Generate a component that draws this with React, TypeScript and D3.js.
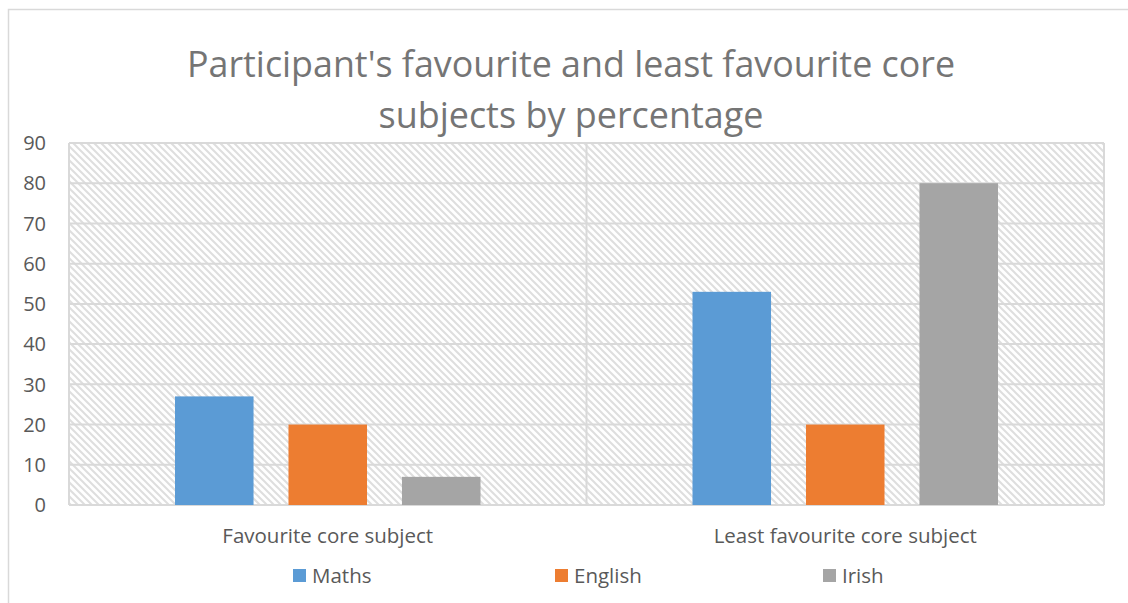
import React from "react";
import * as d3 from "d3";

const categories = ["Favourite core subject", "Least favourite core subject"];
const seriesNames = ["Maths", "English", "Irish"];
const mathsValues = [27, 53];
const englishValues = [20, 20];
const irishValues = [7, 80];
const yTicks = [0, 10, 20, 30, 40, 50, 60, 70, 80, 90];
const titleLines = ["Participant's favourite and least favourite core", "subjects by percentage"];
const colors = ["#5b9bd5", "#ed7d31", "#a5a5a5"];

const W = 1128;
const H = 603;
const FONT = "'Open Sans', 'Noto Sans', sans-serif";

export default function App() {
  const left = 69, right = 1104, top = 143, bottom = 505;
  const x0 = d3.scaleBand<string>().domain(categories).range([left, right]).paddingInner(0).paddingOuter(0);
  const x1 = d3.scaleBand<string>().domain(seriesNames).range([0, x0.bandwidth()]).paddingInner(0.308).paddingOuter(0.934);
  const y = d3.scaleLinear().domain([0, 90]).range([bottom, top]);
  const values = [mathsValues, englishValues, irishValues];
  const legendX = [293, 555, 823];

  return (
    <svg width={W} height={H} style={{ position: "absolute", left: 0, top: 0, background: "#fff" }} fontFamily={FONT}>
      <defs>
        <pattern id="hatch" width="7" height="7" patternUnits="userSpaceOnUse">
          <rect width="7" height="7" fill="#fff" />
          <path d="M-2,-2 L9,9 M-2,5 L2,9 M5,-2 L9,2" stroke="#dedede" strokeWidth="2" />
        </pattern>
      </defs>
      <path d={`M8.5,${H} V9.5 H${W}`} fill="none" stroke="#d9d9d9" strokeWidth={1.5} />
      {titleLines.map((t, i) => (
        <text key={i} x={571} y={77 + i * 51} textAnchor="middle" fontSize={36} fill="#757575"
          textLength={i === 0 ? 768 : 385} lengthAdjust="spacingAndGlyphs">{t}</text>
      ))}
      <rect x={left} y={top} width={right - left} height={bottom - top} fill="url(#hatch)" />
      {yTicks.map((t) => (
        <g key={t}>
          <line x1={left} x2={right} y1={y(t)} y2={y(t)} stroke="#d9d9d9" strokeWidth={2} />
          <text x={46} y={y(t)} dy="0.36em" textAnchor="end" fontSize={20} fill="#595959">{t}</text>
        </g>
      ))}
      <line x1={left} x2={left} y1={top} y2={bottom} stroke="#d9d9d9" strokeWidth={2} />
      <line x1={right} x2={right} y1={top} y2={bottom} stroke="#d9d9d9" strokeWidth={2} />
      {categories.slice(1).map((c) => (
        <line key={c} x1={x0(c)!} x2={x0(c)!} y1={top} y2={bottom} stroke="#d9d9d9" strokeWidth={2} />
      ))}
      {categories.map((c, ci) => (
        <g key={c}>
          {seriesNames.map((s, si) => (
            <rect key={s} x={x0(c)! + x1(s)!} y={y(values[si][ci])} width={x1.bandwidth()}
              height={bottom - y(values[si][ci])} fill={colors[si]} />
          ))}
          <text x={x0(c)! + x0.bandwidth() / 2} y={543} textAnchor="middle" fontSize={20.5} fill="#595959">{c}</text>
        </g>
      ))}
      {seriesNames.map((s, i) => (
        <g key={s}>
          <rect x={legendX[i]} y={569} width={13} height={13} fill={colors[i]} />
          <text x={legendX[i] + 19} y={583} fontSize={20.5} fill="#595959">{s}</text>
        </g>
      ))}
    </svg>
  );
}
